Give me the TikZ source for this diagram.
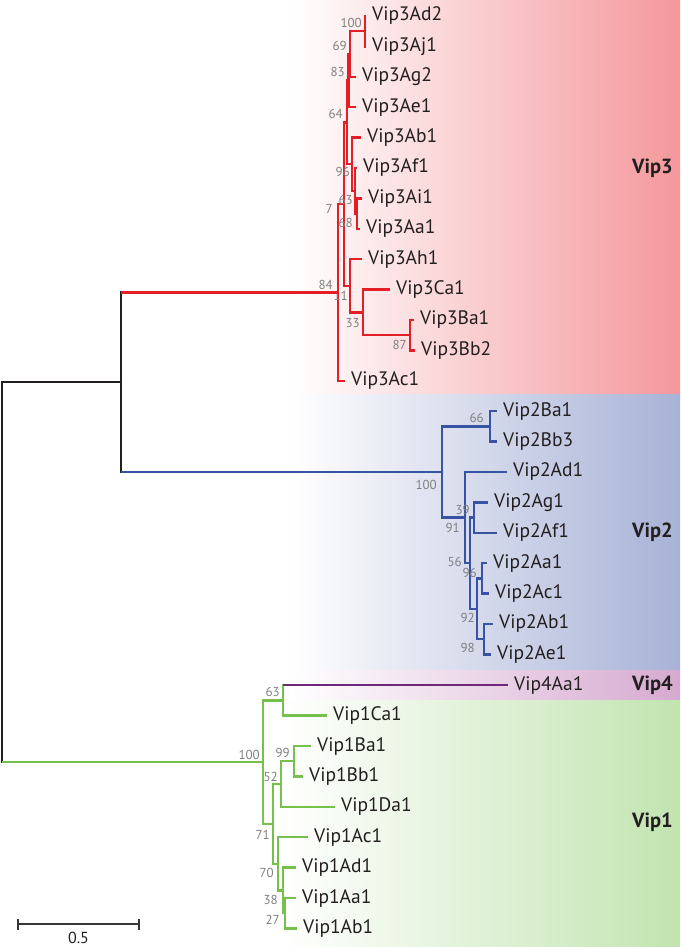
\documentclass[tikz,border=0pt]{standalone}
\usepackage{fontspec}
\setmainfont{PT Sans}
\usetikzlibrary{arrows.meta}

\definecolor{vipred}{RGB}{228,30,38}
\definecolor{vipblue}{RGB}{57,83,164}
\definecolor{vipgreen}{RGB}{118,192,76}
\definecolor{vippurple}{RGB}{110,40,122}
\definecolor{treeblack}{RGB}{35,31,32}
\definecolor{bootgray}{RGB}{128,128,128}
\definecolor{bandred}{RGB}{244,152,156}
\definecolor{bandblue}{RGB}{168,178,214}
\definecolor{bandpurple}{RGB}{214,170,208}
\definecolor{bandgreen}{RGB}{194,228,176}

\begin{document}
\begin{tikzpicture}[x=1pt, y=-1pt,
  branch/.style={line width=2.3pt},
  leaf/.style={anchor=west, inner xsep=6pt, inner ysep=1pt, text=treeblack,
    font=\fontsize{19.5}{19.5}\selectfont},
  boot/.style={anchor=east, inner sep=0pt, text=bootgray,
    font=\fontsize{13}{13}\selectfont},
  clade/.style={anchor=west, inner sep=0pt, text=treeblack,
    font=\fontsize{20.5}{20.5}\selectfont\bfseries}]

\useasboundingbox (0,0) rectangle (680,947);

% coloured bands
\shade[left color=white, right color=bandred] (290,0) rectangle (680,394);
\shade[left color=white, right color=bandblue] (290,394) rectangle (680,670);
\shade[left color=white, right color=bandpurple] (290,670) rectangle (680,700);
\shade[left color=white, right color=bandgreen] (280,700) rectangle (680,947);

% Vip3 leaves
\node[leaf] (v3Ad2) at (366,16) {Vip3Ad2};
\node[leaf] (v3Aj1) at (366,46.4) {Vip3Aj1};
\node[leaf] (v3Ag2) at (356,76.8) {Vip3Ag2};
\node[leaf] (v3Ae1) at (356,107.2) {Vip3Ae1};
\node[leaf] (v3Ab1) at (361,137.6) {Vip3Ab1};
\node[leaf] (v3Af1) at (357,168) {Vip3Af1};
\node[leaf] (v3Ai1) at (362,198.4) {Vip3Ai1};
\node[leaf] (v3Aa1) at (360,228.8) {Vip3Aa1};
\node[leaf] (v3Ah1) at (362,259.2) {Vip3Ah1};
\node[leaf] (v3Ca1) at (390,289.6) {Vip3Ca1};
\node[leaf] (v3Ba1) at (414,320) {Vip3Ba1};
\node[leaf] (v3Bb2) at (415,350.4) {Vip3Bb2};
\node[leaf] (v3Ac1) at (345,380.8) {Vip3Ac1};

\coordinate (v3n100) at (365,31.2);
\coordinate (v3n69) at (350,54);
\coordinate (v3n83) at (348.5,80.6);
\coordinate (v3n68) at (357,213.6);
\coordinate (v3n63) at (355,190.8);
\coordinate (v3n96) at (352,164.2);
\coordinate (v3n64) at (347,122.4);
\coordinate (v3n87) at (410,335.2);
\coordinate (v3n33) at (363,312.4);
\coordinate (v3n11) at (350,285.8);
\coordinate (v3n7) at (344,204.1);
\coordinate (v3n84) at (338,292.45);

\begin{scope}[branch, vipred]
\draw (v3n100) |- (v3Ad2);
\draw (v3n100) |- (v3Aj1);
\draw (v3n69) |- (v3n100);
\draw (v3n69) |- (v3Ag2);
\draw (v3n83) |- (v3n69);
\draw (v3n83) |- (v3Ae1);
\draw (v3n68) |- (v3Ai1);
\draw (v3n68) |- (v3Aa1);
\draw (v3n63) |- (v3Af1);
\draw (v3n63) |- (v3n68);
\draw (v3n96) |- (v3Ab1);
\draw (v3n96) |- (v3n63);
\draw (v3n64) |- (v3n83);
\draw (v3n64) |- (v3n96);
\draw (v3n87) |- (v3Ba1);
\draw (v3n87) |- (v3Bb2);
\draw (v3n33) |- (v3Ca1);
\draw (v3n33) |- (v3n87);
\draw (v3n11) |- (v3Ah1);
\draw (v3n11) |- (v3n33);
\draw (v3n7) |- (v3n64);
\draw (v3n7) |- (v3n11);
\draw (v3n84) |- (v3n7);
\draw (v3n84) |- (v3Ac1);
\end{scope}

\node[boot] (b3n100) at (362,23) {100};
\node[boot] (b3n69) at (347,46) {69};
\node[boot] (b3n83) at (345,72) {83};
\node[boot] (b3n64) at (343,114) {64};
\node[boot] (b3n96) at (350,172) {96};
\node[boot] (b3n63) at (353,200) {63};
\node[boot] (b3n68) at (353,223) {68};
\node[boot] (b3n7) at (333,209) {7};
\node[boot] (b3n84) at (333,285) {84};
\node[boot] (b3n11) at (348,296) {11};
\node[boot] (b3n33) at (360,323) {33};
\node[boot] (b3n87) at (407,345) {87};

% Vip2 leaves
\node[leaf] (v2Ba1) at (497,411.2) {Vip2Ba1};
\node[leaf] (v2Bb3) at (497,441.6) {Vip2Bb3};
\node[leaf] (v2Ad1) at (507,472) {Vip2Ad1};
\node[leaf] (v2Ag1) at (488,502.4) {Vip2Ag1};
\node[leaf] (v2Af1) at (497,532.8) {Vip2Af1};
\node[leaf] (v2Aa1) at (487,563.2) {Vip2Aa1};
\node[leaf] (v2Ac1) at (489,593.6) {Vip2Ac1};
\node[leaf] (v2Ab1) at (493,624) {Vip2Ab1};
\node[leaf] (v2Ae1) at (491,654.4) {Vip2Ae1};

\coordinate (v2n66) at (490,426.4);
\coordinate (v2n39) at (474,517.6);
\coordinate (v2n96) at (482,578.4);
\coordinate (v2n98) at (484,639.2);
\coordinate (v2n92) at (477,608.8);
\coordinate (v2n56) at (470,563.2);
\coordinate (v2n91) at (465,517.6);
\coordinate (v2n100) at (442,472);

\begin{scope}[branch, vipblue]
\draw (v2n66) |- (v2Ba1);
\draw (v2n66) |- (v2Bb3);
\draw (v2n39) |- (v2Ag1);
\draw (v2n39) |- (v2Af1);
\draw (v2n96) |- (v2Aa1);
\draw (v2n96) |- (v2Ac1);
\draw (v2n98) |- (v2Ab1);
\draw (v2n98) |- (v2Ae1);
\draw (v2n92) |- (v2n96);
\draw (v2n92) |- (v2n98);
\draw (v2n56) |- (v2n39);
\draw (v2n56) |- (v2n92);
\draw (v2n91) |- (v2Ad1);
\draw (v2n91) |- (v2n56);
\draw (v2n100) |- (v2n66);
\draw (v2n100) |- (v2n91);
\end{scope}

\node[boot] (b2n66) at (484,418) {66};
\node[boot] (b2n100) at (437,485) {100};
\node[boot] (b2n39) at (470,510) {39};
\node[boot] (b2n91) at (460,528) {91};
\node[boot] (b2n56) at (462,562) {56};
\node[boot] (b2n96) at (477,573) {96};
\node[boot] (b2n92) at (475,618) {92};
\node[boot] (b2n98) at (475,648) {98};

% Vip4 and Vip1 leaves
\node[leaf] (v4Aa1) at (508,685.2) {Vip4Aa1};
\node[leaf] (v1Ca1) at (327,715.6) {Vip1Ca1};
\node[leaf] (v1Ba1) at (311,746) {Vip1Ba1};
\node[leaf] (v1Bb1) at (303,776.4) {Vip1Bb1};
\node[leaf] (v1Da1) at (335,806.8) {Vip1Da1};
\node[leaf] (v1Ac1) at (308,837.2) {Vip1Ac1};
\node[leaf] (v1Ad1) at (296,867.6) {Vip1Ad1};
\node[leaf] (v1Aa1) at (296,898) {Vip1Aa1};
\node[leaf] (v1Ab1) at (297,928.4) {Vip1Ab1};

\coordinate (v1n63) at (283,700.4);
\coordinate (v1n99) at (294,761.2);
\coordinate (v1n52) at (281,784);
\coordinate (v1n27) at (285,913.2);
\coordinate (v1n38) at (283,890.4);
\coordinate (v1n70) at (278,863.8);
\coordinate (v1n71) at (273,823.9);
\coordinate (v1n100) at (263,762.15);

\begin{scope}[branch, vipgreen]
\draw (v1n63) |- (v1Ca1);
\draw (v1n99) |- (v1Ba1);
\draw (v1n99) |- (v1Bb1);
\draw (v1n52) |- (v1n99);
\draw (v1n52) |- (v1Da1);
\draw (v1n27) |- (v1Aa1);
\draw (v1n27) |- (v1Ab1);
\draw (v1n38) |- (v1Ad1);
\draw (v1n38) |- (v1n27);
\draw (v1n70) |- (v1Ac1);
\draw (v1n70) |- (v1n38);
\draw (v1n71) |- (v1n52);
\draw (v1n71) |- (v1n70);
\draw (v1n100) |- (v1n63);
\draw (v1n100) |- (v1n71);
\draw (v1n63) |- (v4Aa1);
\end{scope}
\draw[branch, vippurple] (v1n63 |- v4Aa1) -- (v4Aa1);

\node[boot] (b1n63) at (280,692) {63};
\node[boot] (b1n100) at (260,755) {100};
\node[boot] (b1n99) at (290,753) {99};
\node[boot] (b1n52) at (278,777) {52};
\node[boot] (b1n71) at (270,835) {71};
\node[boot] (b1n70) at (274,873) {70};
\node[boot] (b1n38) at (278,900) {38};
\node[boot] (b1n27) at (280,920) {27};

% backbone
\coordinate (nTop) at (121,382.2);
\coordinate (nRoot) at (2,572);
\draw[branch, treeblack] (nTop) |- (v3n84);
\draw[branch, treeblack] (nTop) |- (v2n100);
\draw[branch, treeblack] (nRoot) |- (nTop);
\draw[branch, treeblack] (nRoot) |- (v1n100);
\draw[branch, vipred] (nTop |- v3n84) -- (v3n84);
\draw[branch, vipblue] (nTop |- v2n100) -- (v2n100);
\draw[branch, vipgreen] (nRoot |- v1n100) -- (v1n100);

% clade names
\node[clade] (cVip3) at (632,168) {Vip3};
\node[clade] (cVip2) at (632,532) {Vip2};
\node[clade] (cVip4) at (632,685) {Vip4};
\node[clade] (cVip1) at (632,822) {Vip1};

% scale bar
\coordinate (sbL) at (17,924);
\coordinate (sbR) at (140,924);
\draw[line width=1.8pt, treeblack!90, {Bar[width=11pt]}-{Bar[width=11pt]}] (sbL) -- (sbR);
\node[font=\fontsize{16}{16}\selectfont, text=treeblack] (sbText) at (78.5,938) {0.5};

\end{tikzpicture}
\end{document}
